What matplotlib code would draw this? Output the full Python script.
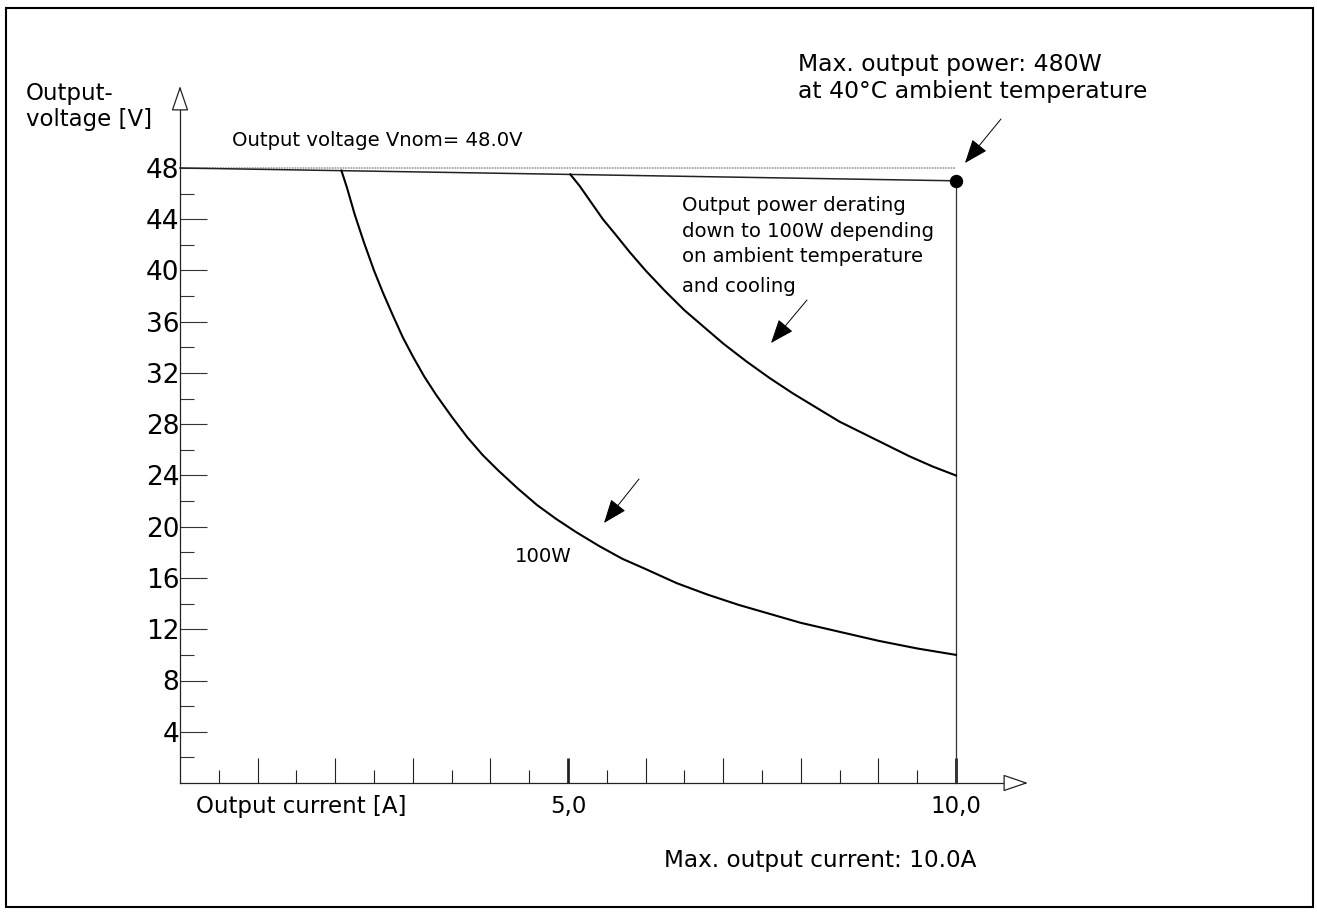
import matplotlib.pyplot as plt
from matplotlib.patches import Rectangle

# values
i_100w = [2.08, 2.15, 2.25, 2.37, 2.5, 2.62, 2.75, 2.87, 3.0, 3.15, 3.3, 3.5,
          3.7, 3.9, 4.1, 4.35, 4.6, 4.85, 5.1, 5.4, 5.7, 6.0, 6.4, 6.8, 7.2,
          7.6, 8.0, 8.5, 9.0, 9.5, 10.0]
u_100w = [47.8, 46.5, 44.4, 42.2, 40.0, 38.2, 36.4, 34.8, 33.3, 31.7, 30.3, 28.6,
          27.0, 25.6, 24.4, 23.0, 21.7, 20.6, 19.6, 18.5, 17.5, 16.7, 15.6, 14.7, 13.9,
          13.2, 12.5, 11.8, 11.1, 10.5, 10.0]

i_upper = [5.03, 5.15, 5.3, 5.45, 5.6, 5.8, 6.0, 6.25, 6.5, 6.75, 7.0, 7.3,
           7.6, 7.9, 8.2, 8.5, 8.8, 9.1, 9.4, 9.7, 10.0]
u_upper = [47.5, 46.6, 45.3, 44.0, 42.9, 41.4, 40.0, 38.4, 36.9, 35.6, 34.3, 32.9,
           31.6, 30.4, 29.3, 28.2, 27.3, 26.4, 25.5, 24.7, 24.0]

i_nom = [0.0, 10.0]
u_nom = [48.0, 48.0]          # Vnom (grey dotted)
u_load = [48.0, 47.0]         # output voltage under load

i_max = 10.0
u_max = 47.0

x_major = [1, 2, 3, 4, 5, 6, 7, 8, 9, 10]
x_labels = ['', '', '', '', '5,0', '', '', '', '', '10,0']
x_minor = [0.5, 1.5, 2.5, 3.5, 4.5, 5.5, 6.5, 7.5, 8.5, 9.5]
y_major = [4, 8, 12, 16, 20, 24, 28, 32, 36, 40, 44, 48]
y_minor = [2, 6, 10, 14, 18, 22, 26, 30, 34, 38, 42, 46]

W, H = 1317, 915
fig = plt.figure(figsize=(W / 100, H / 100), dpi=100)
ax = fig.add_axes([0, 0, 1, 1])
ax.patch.set_alpha(0)

# pixel layout of the reference: origin at (180, 783), 77.6 px/A, 12.8125 px/V
sx, sy = 77.6, 12.8125
ax.set_xlim(-180 / sx, (W - 180) / sx)
ax.set_ylim(-(H - 783) / sy, 783 / sy)


def fp(x, y):
    # image pixel (from top-left) -> figure fraction
    return x / W, 1 - y / H


ax.spines['top'].set_visible(False)
ax.spines['right'].set_visible(False)
ax.spines['left'].set_position(('data', 0))
ax.spines['bottom'].set_position(('data', 0))
ax.spines['left'].set_bounds(0, (783 - 108) / sy)
ax.spines['bottom'].set_bounds(0, (1006 - 180) / sx)
for s in ['left', 'bottom']:
    ax.spines[s].set_color('#222222')
    ax.spines[s].set_linewidth(0.9)

# open arrow heads on the axes
ax.annotate('', xy=(0, (783 - 86) / sy), xytext=(0, (783 - 108) / sy),
            arrowprops=dict(arrowstyle='-|>,head_length=1.58,head_width=0.54',
                            fc='white', ec='#222222', lw=0.9,
                            shrinkA=0, shrinkB=0, mutation_scale=10))
ax.annotate('', xy=((1028 - 180) / sx, 0), xytext=((1006 - 180) / sx, 0),
            arrowprops=dict(arrowstyle='-|>,head_length=1.58,head_width=0.54',
                            fc='white', ec='#222222', lw=0.9,
                            shrinkA=0, shrinkB=0, mutation_scale=10))

ax.set_xticks(x_major)
ax.set_xticklabels(x_labels)
ax.set_xticks(x_minor, minor=True)
ax.set_yticks(y_major)
ax.set_yticklabels([str(v) for v in y_major])
ax.set_yticks(y_minor, minor=True)

ax.tick_params(axis='x', which='major', direction='in', length=18, width=0.8,
               color='#222222', labelsize=16.5, pad=9)
ax.tick_params(axis='x', which='minor', direction='in', length=9.4, width=0.8,
               color='#222222')
ax.tick_params(axis='y', which='major', direction='in', length=19.5, width=0.8,
               color='#333333', labelsize=19, pad=0.5)
ax.tick_params(axis='y', which='minor', direction='in', length=10, width=0.8,
               color='#333333')
for k in [4, 9]:
    ax.xaxis.get_major_ticks()[k].tick1line.set_markeredgewidth(2)

# curves
ax.plot(i_nom, u_nom, color='#999999', lw=1.2, ls=(0, (1, 0.6)))
ax.plot(i_nom, u_load, color='#222222', lw=1.1)
ax.plot([i_max, i_max], [u_max, 0], color='#333333', lw=0.9)
ax.plot(i_100w, u_100w, color='black', lw=1.5)
ax.plot(i_upper, u_upper, color='black', lw=1.5)
ax.plot([i_max], [u_max], 'o', color='black', ms=8.6)

# pointer arrows
arrow_kw = dict(arrowstyle='-|>,head_length=1.5,head_width=0.58',
                fc='black', ec='black', lw=0.7, shrinkA=0, shrinkB=0,
                mutation_scale=10)
for tail, tip in [((1001, 119), (965, 163)),
                  ((807, 300), (771, 343)),
                  ((639, 479), (604, 523))]:
    ax.annotate('', xy=(tip[0], H - tip[1]), xycoords='figure pixels',
                xytext=(tail[0], H - tail[1]), textcoords='figure pixels',
                arrowprops=arrow_kw)

# texts
fig.text(*fp(26, 100), 'Output-', fontsize=16.5, va='baseline')
fig.text(*fp(26, 126), 'voltage [V]', fontsize=16.5, va='baseline')
fig.text(*fp(232, 146), 'Output voltage Vnom= 48.0V', fontsize=14.1, va='baseline')
fig.text(*fp(798, 71), 'Max. output power: 480W', fontsize=16.9, va='baseline')
fig.text(*fp(798, 98), 'at 40°C ambient temperature', fontsize=16.9, va='baseline')
for txt, yb in [('Output power derating', 211),
                ('down to 100W depending', 237),
                ('on ambient temperature', 262),
                ('and cooling', 292)]:
    fig.text(*fp(682, yb), txt, fontsize=14.1, va='baseline')
fig.text(*fp(515, 562), '100W', fontsize=14.2, va='baseline')
fig.text(*fp(196, 813), 'Output current [A]', fontsize=16.5, va='baseline')
fig.text(*fp(977, 867), 'Max. output current: 10.0A', fontsize=16.7,
         va='baseline', ha='right')

# frame round the whole picture
fig.patches.append(Rectangle(fp(6, 907), 1307 / W, 899 / H, transform=fig.transFigure,
                             fill=False, ec='black', lw=1.5))

fig.savefig('out.png', dpi=100, facecolor='white')
